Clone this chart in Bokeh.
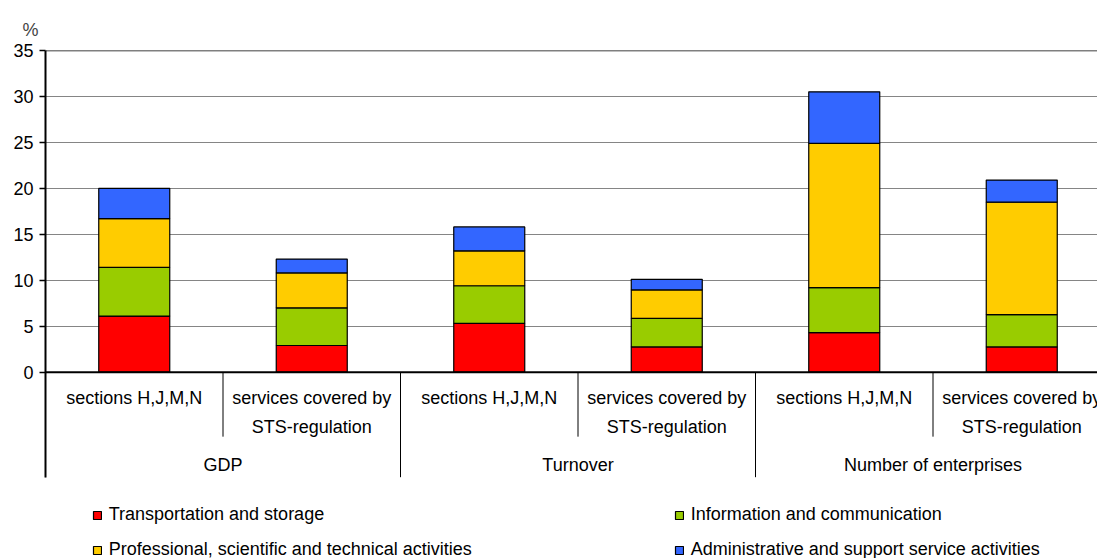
from bokeh.plotting import figure
from bokeh.models import Range1d, FixedTicker, Span, Legend, LegendItem, ColumnDataSource
from bokeh.core.properties import value
from bokeh.embed import file_html
from bokeh.resources import INLINE

# ---- data ----
groups = ["GDP", "Turnover", "Number of enterprises"]
subcats = ["sections H,J,M,N", "services covered by\nSTS-regulation"]
series = ["Transportation and storage", "Information and communication",
          "Professional, scientific and technical activities",
          "Administrative and support service activities"]
transport = [6.1, 2.9, 5.3, 2.75, 4.3, 2.75]
information = [5.3, 4.1, 4.1, 3.1, 4.9, 3.5]
professional = [5.3, 3.8, 3.8, 3.1, 15.7, 12.25]
administrative = [3.3, 1.5, 2.6, 1.15, 5.6, 2.4]
colors = ["#FF0000", "#99CC00", "#FFCC00", "#3366FF"]
y_ticks = [0, 5, 10, 15, 20, 25, 30, 35]

FONT = "Liberation Sans"
n_cat = len(groups) * len(subcats)
xs = [i + 0.5 for i in range(n_cat)]

source = ColumnDataSource(dict(x=xs, t=transport, i=information, p=professional, a=administrative))

W, H = 1097, 558
LEFT, TOP = 45, 50
CAT_PX = 177.5
PX_PER_UNIT = 9.19
p = figure(width=W, height=H, output_backend="svg", toolbar_location=None,
           x_range=Range1d(0, (W - LEFT) / CAT_PX),
           y_range=Range1d(35 - (H - TOP) / PX_PER_UNIT, 35),
           x_axis_type=None, min_border_left=LEFT, min_border_right=0,
           min_border_top=TOP, min_border_bottom=0)
p.outline_line_color = None
p.background_fill_color = "white"

# grid
p.ygrid.ticker = FixedTicker(ticks=y_ticks[1:-1])
p.ygrid.grid_line_color = "#858585"
p.ygrid.grid_line_width = 1.2

# y axis
ax = p.yaxis[0]
ax.ticker = FixedTicker(ticks=y_ticks)
ax.bounds = (-11.43, 35)
ax.axis_line_width = 2
ax.axis_line_color = "black"
ax.major_tick_out = 6
ax.major_tick_in = 0
ax.major_tick_line_color = "black"
ax.major_tick_line_width = 1.5
ax.minor_tick_line_color = None
ax.major_label_text_font = FONT
ax.major_label_text_font_size = "18px"
ax.major_label_text_color = "black"
ax.major_label_standoff = 6

# bars
rs = p.vbar_stack(["t", "i", "p", "a"], x="x", width=0.4, color=colors,
                  line_color="black", line_width=1.2, source=source)

# frame lines
p.add_layout(Span(location=0, dimension="width", line_color="black", line_width=2))
p.add_layout(Span(location=35, dimension="width", line_color="black", line_width=1.5))

# category separators
inner_x = [2 * g + 1 for g in range(len(groups))]
outer_x = [2 * g for g in range(len(groups) + 1)]
p.segment(x0=inner_x, y0=[0] * len(inner_x), x1=inner_x, y1=[-7.02] * len(inner_x),
          line_color="black", line_width=1)
p.segment(x0=outer_x, y0=[0] * len(outer_x), x1=outer_x, y1=[-11.43] * len(outer_x),
          line_color="black", line_width=1)

# category labels
inner_labels = [subcats[i % len(subcats)] for i in range(n_cat)]
p.text(x=xs, y=[-1.74] * n_cat, text=inner_labels, text_font=value(FONT),
       text_font_size=value("18px"), text_align="center", text_baseline="top",
       text_line_height=1.44, text_color="black")
gx = [2 * g + 1 for g in range(len(groups))]
p.text(x=gx, y=[-10.12] * len(groups), text=groups, text_font=value(FONT),
       text_font_size=value("18px"), text_align="center", text_baseline="middle",
       text_color="black")

# title "%"
p.title.text = "%"
p.title.align = "left"
p.title.offset = -23
p.title.text_font = FONT
p.title.text_font_size = "18px"
p.title.text_font_style = "normal"
p.title.standoff = 21

# legend
legend = Legend(items=[LegendItem(label=s, renderers=[r]) for s, r in zip(series, rs)],
                location=(46.7, -2), orientation="horizontal", ncols=2,
                border_line_color=None, background_fill_alpha=0, padding=0, margin=0,
                spacing=14, glyph_width=10, glyph_height=10, label_standoff=7,
                label_width=551, label_height=20, label_text_font=FONT,
                label_text_font_size="18px", label_text_color="black")
p.add_layout(legend)

open("out.html", "w").write(file_html(p, INLINE))
